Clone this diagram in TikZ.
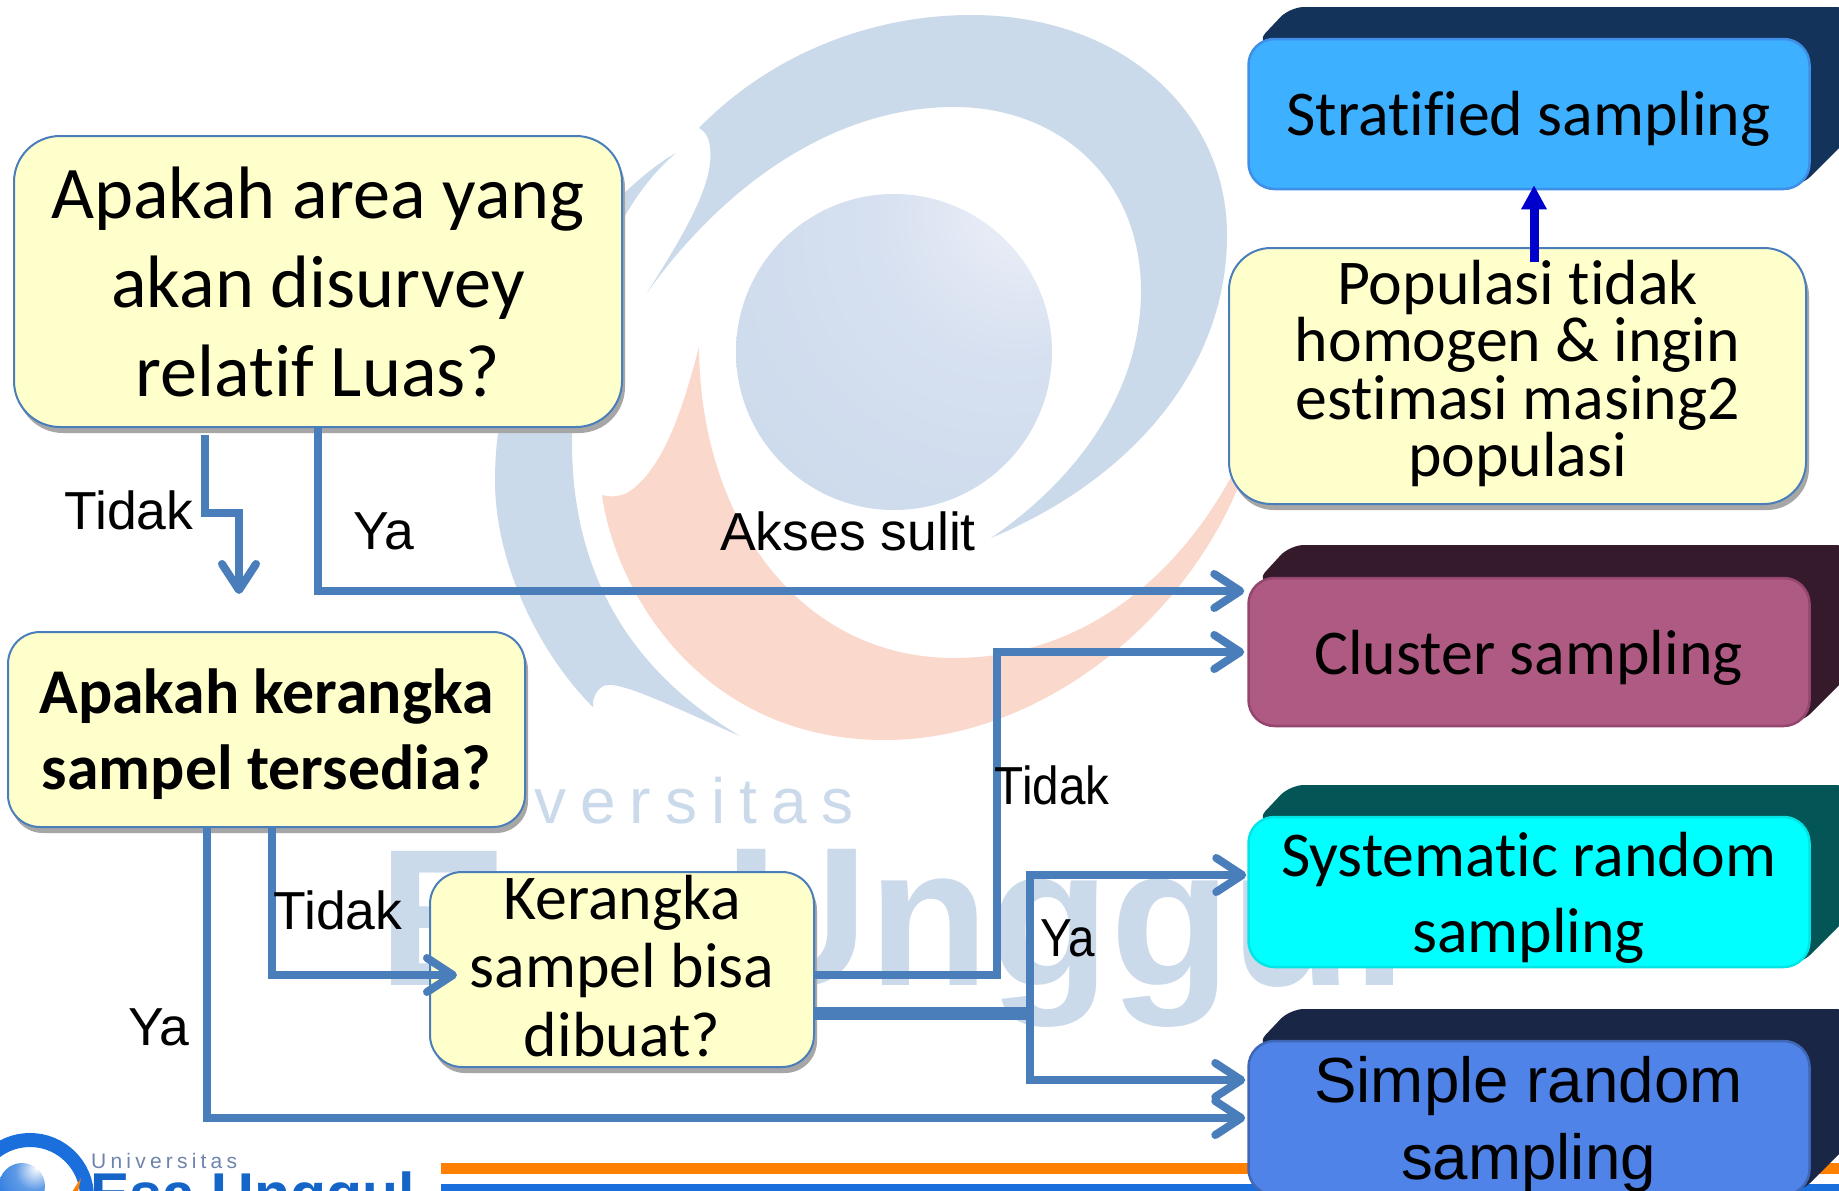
\documentclass[tikz,border=0pt]{standalone}
\usepackage{fontspec}
\setmainfont[Ligatures=NoCommon]{Carlito}
\newfontfamily\arialf{Liberation Sans}
\newfontfamily\wmspaced[LetterSpace=22]{Liberation Sans}
\newfontfamily\logospaced[LetterSpace=20]{Liberation Sans}
\usetikzlibrary{arrows.meta,shadows}
\definecolor{wmblue}{HTML}{CBDAEB}
\definecolor{wmorange}{HTML}{FAD8CC}
\definecolor{flowblue}{HTML}{4A7EBB}
\definecolor{qfill}{HTML}{FFFFCC}
\definecolor{qshadow}{HTML}{A6A6A6}
\definecolor{sphlight}{HTML}{F0F2F9}
\definecolor{sphmid}{HTML}{D6E0F0}
\definecolor{logoblue}{HTML}{1A6FDC}
\definecolor{logotext}{HTML}{6E84AE}
\definecolor{logodark}{HTML}{1565C8}
\definecolor{barorange}{HTML}{FF8000}
\definecolor{upblue}{HTML}{0000CC}
\definecolor{stfront}{HTML}{3DB0FF}
\definecolor{stedge}{HTML}{3F8FE8}
\definecolor{stback}{HTML}{14335A}
\definecolor{clfront}{HTML}{AE5A82}
\definecolor{cledge}{HTML}{94466E}
\definecolor{clback}{HTML}{341A2A}
\definecolor{syfront}{HTML}{00FFFF}
\definecolor{syedge}{HTML}{00E6E6}
\definecolor{syback}{HTML}{045555}
\definecolor{sifront}{HTML}{5083E8}
\definecolor{siedge}{HTML}{3F67B8}
\definecolor{siback}{HTML}{192645}
\pgfdeclareradialshading{sphereshade}{\pgfpoint{24bp}{26bp}}{color(0bp)=(sphlight); color(22bp)=(sphmid); color(50bp)=(wmblue); color(100bp)=(wmblue)}
\pgfdeclareradialshading{logoball}{\pgfpoint{16bp}{20bp}}{color(0bp)=(white); color(20bp)=(logoblue!70); color(50bp)=(logoblue); color(100bp)=(logoblue)}
\tikzset{
  qbox/.style={draw=flowblue,line width=2pt,fill=qfill,rounded corners=#1,inner sep=0pt,
    drop shadow={shadow xshift=3pt,shadow yshift=-6pt,fill=qshadow,opacity=1}},
  frontbox/.style={line width=2.5pt,rounded corners=26pt,inner sep=0pt,minimum width=561pt},
  boxtxt/.style={inner sep=0pt,align=center},
  flow/.style={draw=flowblue,line width=8pt,-{Straight Barb[length=26pt,width=34pt,round]}},
  flowthick/.style={draw=flowblue,line width=13pt},
  upflow/.style={draw=upblue,line width=9pt,-{Triangle[length=24pt,width=24pt]}},
  lab/.style={font=\arialf\fontsize{53.5}{60}\selectfont,inner sep=0pt},
  wmtext/.style={anchor=base west,inner sep=0pt,text=wmblue},
}
\newcommand{\bevelback}[4]{\fill[#1,rounded corners=14pt] (1256,{#3+4}) -- (1290,#2) -- (1850,#2) -- (1850,{#4-52}) -- (1800,{#4-2}) -- cycle;}
\begin{document}
\begin{tikzpicture}[x=1pt,y=-1pt]
\useasboundingbox (0,0) rectangle (1839,1191);
\clip (0,0) rectangle (1839,1191);
\fill[white] (0,0) rectangle (1839,1191);
% watermark
\fill[wmblue] (647,293) .. controls (680,240) and (715,185) .. (710,148) .. controls (709,135) and (703,130) .. (699,128) .. controls (770,55) and (870,15) .. (971,15) .. controls (1120,15) and (1227,110) .. (1227,235) .. controls (1227,370) and (1130,480) .. (991,538) .. controls (1090,470) and (1141,380) .. (1141,291) .. controls (1141,180) and (1060,107) .. (954,107) .. controls (830,107) and (720,190) .. (647,293) -- cycle;
\fill[wmblue] (676,153) .. controls (640,172) and (495,290) .. (495,480) .. controls (495,570) and (545,660) .. (593,707) .. controls (592,695) and (600,685) .. (608,685) .. controls (625,683) and (680,710) .. (740,736) .. controls (680,700) and (572,620) .. (572,443) .. controls (572,300) and (620,200) .. (676,153) -- cycle;
\fill[wmorange] (699,347) .. controls (685,400) and (665,470) .. (627,493) .. controls (618,497) and (610,497) .. (602,495) .. controls (615,590) and (700,740) .. (885,740) .. controls (1040,740) and (1190,620) .. (1245,470) -- (1240,460) .. controls (1180,580) and (1080,658) .. (954,658) .. controls (800,658) and (700,520) .. (699,347) -- cycle;
\shade[shading=sphereshade] (894,352) circle (158);
\node[wmtext,font=\wmspaced\fontsize{64}{70}\selectfont] (wmuni) at (534,823) {versitas};
\node[wmtext,font=\arialf\bfseries\fontsize{195}{200}\selectfont] (wmesa) at (378,985) {Esa};
\node[wmtext,font=\arialf\bfseries\fontsize{198}{200}\selectfont] (wmung) at (725,985) {Unggul};
% footer
\fill[barorange] (441,1163) rectangle (1839,1174);
\fill[logoblue] (441,1184) rectangle (1839,1191);
\draw[logoblue,line width=14pt] (30,1197) circle (57);
\shade[shading=logoball] (22,1186) circle (23);
\fill[barorange] (81,1178) -- (72,1192) -- (78,1192) -- cycle;
\node[anchor=base west,inner sep=0pt,text=logotext,font=\logospaced\fontsize{21}{24}\selectfont] (uni) at (91,1168) {Universitas};
\node[anchor=base west,inner sep=0pt,text=logodark,font=\arialf\bfseries\fontsize{59}{60}\selectfont] (esa) at (90,1214) {Esa Unggul};
% right method boxes
\bevelback{stback}{7}{39}{189}
\node[frontbox,draw=stedge,fill=stfront,minimum height=150pt] (st) at (1529,114) {};
\node[boxtxt,font=\fontsize{63.8}{76}\selectfont] (stt) at (1528.5,119) {Stratified sampling};
\bevelback{clback}{545}{578}{726}
\node[frontbox,draw=cledge,fill=clfront,minimum height=148pt] (cl) at (1529,652) {};
\node[boxtxt,font=\fontsize{63.8}{76}\selectfont] (clt) at (1528.5,658) {Cluster sampling};
\bevelback{syback}{785}{817}{967}
\node[frontbox,draw=syedge,fill=syfront,minimum height=150pt] (sy) at (1529,892) {};
\node[boxtxt,font=\fontsize{63.8}{76}\selectfont] (syt) at (1528.5,898) {Systematic random\\sampling};
\bevelback{siback}{1009}{1041}{1195}
\node[frontbox,draw=siedge,fill=sifront,minimum height=154pt] (si) at (1529,1118) {};
\node[boxtxt,font=\arialf\fontsize{63.7}{77}\selectfont] (sit) at (1528.5,1125) {Simple random\\sampling};
% question boxes
\node[qbox=46pt,minimum width=608pt,minimum height=291pt] (q1) at (318,281.5) {};
\node[boxtxt,font=\fontsize{74.3}{89}\selectfont] (q1t) at (318,281.5) {Apakah area yang\\akan disurvey\\relatif Luas?};
\node[qbox=32pt,minimum width=517pt,minimum height=195pt] (q2) at (266.5,729.5) {};
\node[boxtxt,font=\bfseries\fontsize{63.8}{76}\selectfont] (q2t) at (266.5,734.5) {Apakah kerangka\\sampel tersedia?};
\node[qbox=32pt,minimum width=384pt,minimum height=195pt] (q3) at (622,969.5) {};
\node[boxtxt,font=\fontsize{63.8}{68.5}\selectfont] (q3t) at (622,966) {Kerangka\\sampel bisa\\dibuat?};
\node[qbox=42pt,minimum width=577pt,minimum height=256pt] (q4) at (1517.5,376) {};
\node[boxtxt,font=\fontsize{63.8}{57.5}\selectfont] (q4t) at (1517.5,373.5) {Populasi tidak\\homogen \& ingin\\estimasi masing2\\populasi};
% junction points
\coordinate (tidakend) at (239,594);
\coordinate (bendA) at (997,975);
\coordinate (splitJ) at (1030,1013);
% connectors
\draw[flow] ([xshift=-113pt,yshift=-7pt]q1.south) -- ++(0,78) -| (tidakend);
\draw[flow] (q1.south) |- ([xshift=-3pt,yshift=61pt]cl.west);
\draw[flow] ([yshift=-5.5pt]q3.east) -- (bendA) |- ([xshift=-3pt]cl.west);
\draw[flowthick] ([yshift=-43.5pt]q3.east) -- (splitJ);
\draw[flow] (splitJ) |- ([xshift=-1pt,yshift=17pt]sy.west);
\draw[flow] (splitJ) |- ([xshift=-2pt,yshift=38pt]si.west);
\draw[flow] ([xshift=5.5pt]q2.south) |- ([xshift=28pt,yshift=-5.5pt]q3.west);
\draw[flow] ([xshift=-60pt]q2.south) |- ([xshift=-2pt]si.west);
\draw[upflow] ([xshift=16.5pt,yshift=-15pt]q4.north) -- ([xshift=5pt,yshift=5pt]st.south);
% labels
\node[lab] (l1) at (129,510) {Tidak};
\node[lab] (l2) at (384,531) {Ya};
\node[lab] (l3) at (848,531) {Akses sulit};
\node[lab] (l4) at (338,910) {Tidak};
\node[lab] (l5) at (159,1027) {Ya};
\node[lab,xscale=.89] (l6) at (1052,785) {Tidak};
\node[lab,xscale=.89] (l7) at (1068,938) {Ya};
\end{tikzpicture}
\end{document}
